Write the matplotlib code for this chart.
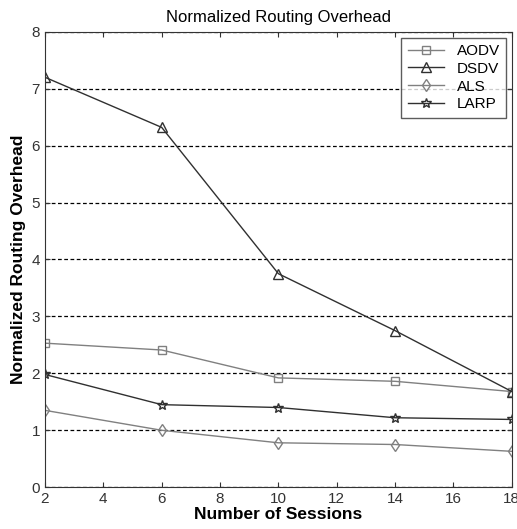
import numpy as np
import matplotlib
matplotlib.use('Agg')
import matplotlib.pyplot as plt

plt.rcParams['font.family'] = ['Liberation Sans', 'DejaVu Sans']

sessions = [2, 6, 10, 14, 18]
aodv = [2.53, 2.41, 1.92, 1.86, 1.68]
dsdv = [7.2, 6.32, 3.75, 2.75, 1.68]
als = [1.35, 1.0, 0.78, 0.75, 0.63]
larp = [1.98, 1.45, 1.40, 1.22, 1.19]

fig = plt.figure(figsize=(5.17, 5.29), dpi=100)
ax = fig.add_axes([0.087, 0.079, 0.903, 0.861])

gris = '#808080'
escuro = '#303030'
ax.plot(sessions, aodv, color=gris, marker='s', mfc='none', ms=6, lw=1, label='AODV')
ax.plot(sessions, dsdv, color=escuro, marker='^', mfc='none', ms=7, lw=1, label='DSDV')
ax.plot(sessions, als, color=gris, marker='d', mfc='none', ms=6, lw=1, label='ALS')
ax.plot(sessions, larp, color=escuro, marker='*', mfc='none', ms=7, lw=1, label='LARP')

ax.set_xlim(2, 18)
ax.set_ylim(0, 8)
ax.set_xticks(np.arange(2, 19, 2))
ax.set_yticks(np.arange(0, 9, 1))
ax.yaxis.grid(True, linestyle=(0, (3, 2)), color='black', lw=0.9)
ax.tick_params(direction='in', top=True, right=True, labelsize=11, colors='#333333')
for s in ax.spines.values():
    s.set_color('#333333')

ax.set_title('Normalized Routing Overhead', fontsize=12, pad=7)
ax.set_xlabel('Number of Sessions', fontsize=12.5, fontweight='bold', labelpad=1)
ax.set_ylabel('Normalized Routing Overhead', fontsize=12.5, fontweight='bold', labelpad=4)

leg = ax.legend(loc='upper right', fontsize=11, fancybox=False, edgecolor='#333333',
                borderaxespad=0.4, handlelength=2.4, labelspacing=0.25, borderpad=0.4)
leg.get_frame().set_linewidth(1)

plt.savefig('out.png', dpi=100)
